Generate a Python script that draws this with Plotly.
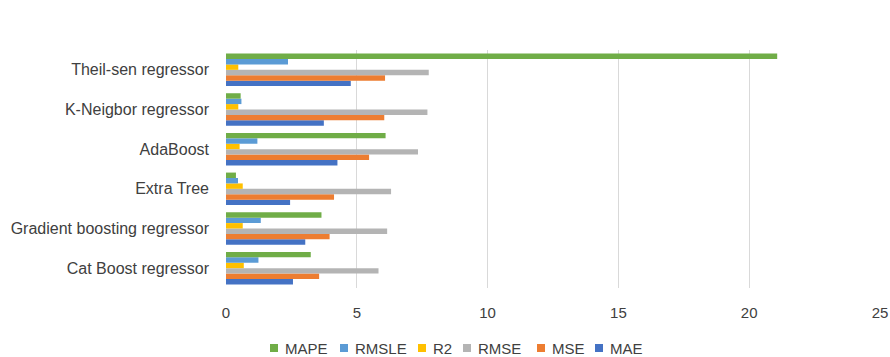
import plotly.graph_objects as go

categories = ["Cat Boost regressor", "Gradient boosting regressor", "Extra Tree",
              "AdaBoost", "K-Neigbor regressor", "Theil-sen regressor"]
mae   = [2.56, 3.03, 2.45, 4.26, 3.74, 4.77]
mse   = [3.56, 3.96, 4.13, 5.47, 6.05, 6.08]
rmse  = [5.83, 6.16, 6.31, 7.34, 7.70, 7.75]
r2    = [0.68, 0.64, 0.64, 0.52, 0.47, 0.47]
rmsle = [1.24, 1.33, 0.46, 1.20, 0.59, 2.37]
mape  = [3.24, 3.65, 0.38, 6.10, 0.56, 21.07]
x_ticks = [0, 5, 10, 15, 20, 25]

series = [("MAE", mae, "#4472C4"), ("MSE", mse, "#ED7D31"), ("RMSE", rmse, "#B4B4B4"),
          ("R2", r2, "#FFC000"), ("RMSLE", rmsle, "#5B9BD5"), ("MAPE", mape, "#70AD47")]

W, H = 890, 357
ML, MR, MT, MB = 226, 10, 50, 69
PW, PH = W - ML - MR, H - MT - MB

fig = go.Figure()
for name, vals, col in series:
    fig.add_trace(go.Bar(y=categories, x=vals, name=name, orientation="h",
                         marker=dict(color=col, line=dict(width=0)), showlegend=False))

txt = "#404040"

# Compact Excel-style legend, in reversed series order
legend_left_px = [270, 340, 418, 463, 537, 595]
legend_mid_px = 348
sq = 8
shapes, annotations = [], []
for (name, _, col), lx in zip(reversed(series), legend_left_px):
    x0 = (lx - ML) / PW
    x1 = (lx + sq - ML) / PW
    ytop = (MT + PH - (legend_mid_px - sq / 2)) / PH
    ybot = (MT + PH - (legend_mid_px + sq / 2)) / PH
    shapes.append(dict(type="rect", xref="paper", yref="paper", x0=x0, x1=x1,
                       y0=ybot, y1=ytop, fillcolor=col, line=dict(width=0)))
    annotations.append(dict(text=name, xref="paper", yref="paper",
                            x=(lx + sq + 6 - ML) / PW,
                            y=(MT + PH - legend_mid_px) / PH,
                            xanchor="left", yanchor="middle", showarrow=False,
                            borderpad=0,
                            font=dict(size=15, color=txt)))

fig.update_layout(
    width=W, height=H,
    margin=dict(l=ML, r=MR, t=MT, b=MB, autoexpand=False),
    barmode="group", bargap=0.18, bargroupgap=0,
    plot_bgcolor="white", paper_bgcolor="white",
    font=dict(family="Liberation Sans, Arial, sans-serif", size=16, color=txt),
    xaxis=dict(range=[0, 25], tickvals=x_ticks, showgrid=True, gridcolor="#D9D9D9",
               gridwidth=1, zeroline=False, showline=False, ticks="",
               ticklabelstandoff=14, automargin=False,
               tickfont=dict(size=15, color=txt), fixedrange=True),
    yaxis=dict(showgrid=False, zeroline=False, showline=False, ticks="",
               automargin=False, ticklabelstandoff=16, fixedrange=True,
               tickfont=dict(size=16, color=txt)),
    shapes=shapes, annotations=annotations,
    showlegend=False,
)
fig.write_html("out.html", config={"displayModeBar": False},
               post_script="document.body.style.margin='0';document.body.style.overflow='hidden';")
